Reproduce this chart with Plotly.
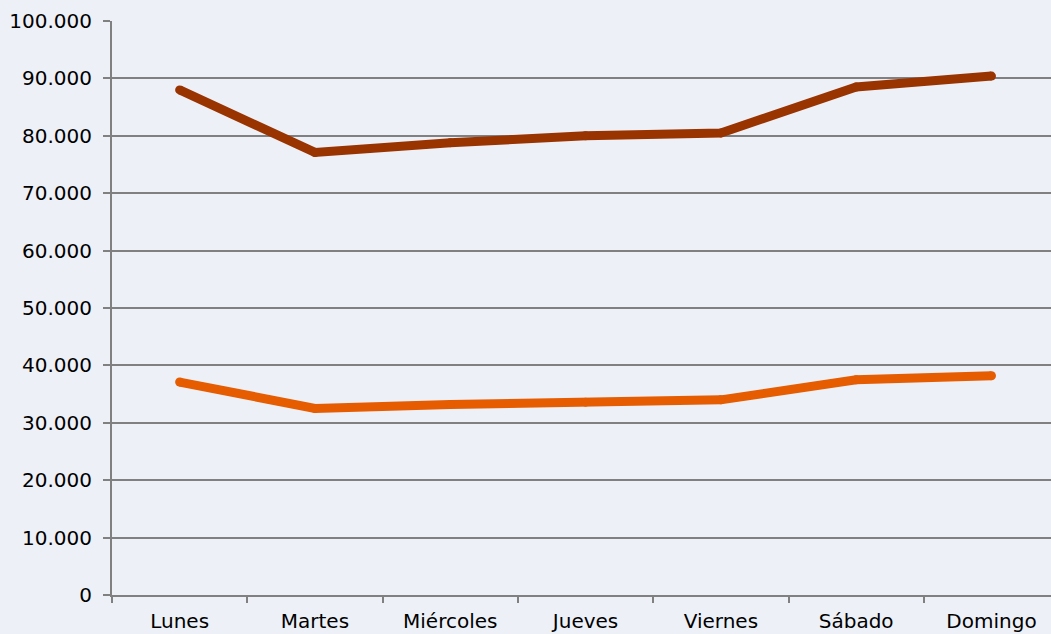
import plotly.graph_objects as go

dias = ["Lunes", "Martes", "Miércoles", "Jueves", "Viernes", "Sábado", "Domingo"]
serie_total = [88000, 77100, 78800, 80000, 80500, 88500, 90400]
serie_parcial = [37100, 32500, 33200, 33600, 34000, 37500, 38200]
y_ticks = [0, 10000, 20000, 30000, 40000, 50000, 60000, 70000, 80000, 90000, 100000]
y_labels = ["0", "10.000", "20.000", "30.000", "40.000", "50.000",
            "60.000", "70.000", "80.000", "90.000", "100.000"]

fig = go.Figure()
fig.add_trace(go.Scatter(x=dias, y=serie_total, mode="lines+markers",
                         line=dict(color="#993300", width=9),
                         marker=dict(color="#993300", size=9, line=dict(width=0)),
                         showlegend=False))
fig.add_trace(go.Scatter(x=dias, y=serie_parcial, mode="lines+markers",
                         line=dict(color="#E65C00", width=9),
                         marker=dict(color="#E65C00", size=9, line=dict(width=0)),
                         showlegend=False))

bg = "#EDF0F7"
fig.update_layout(
    width=1051, height=634,
    margin=dict(l=112, r=0, t=21, b=39),
    paper_bgcolor=bg, plot_bgcolor=bg,
    font=dict(family="DejaVu Sans, Verdana, sans-serif", size=20, color="#000000"),
    xaxis=dict(type="category", range=[-0.5, 6.44], tickson="boundaries",
               ticks="outside", ticklen=6, tickcolor="#808080", tickwidth=2,
               showgrid=False, showline=True, linecolor="#808080", linewidth=2,
               zeroline=False, ticklabelstandoff=7),
    yaxis=dict(range=[0, 100000], tickvals=y_ticks, ticktext=y_labels,
               ticks="outside", ticklen=7, tickcolor="#808080", tickwidth=2,
               showgrid=True, gridcolor="#808080", gridwidth=1.5,
               showline=True, linecolor="#808080", linewidth=2,
               zeroline=False, ticklabelstandoff=7),
)
fig.write_html(
    "out.html",
    config={"displayModeBar": False},
    post_script="document.body.style.margin='0';document.body.style.overflow='hidden';document.body.style.background='" + bg + "';",
)
